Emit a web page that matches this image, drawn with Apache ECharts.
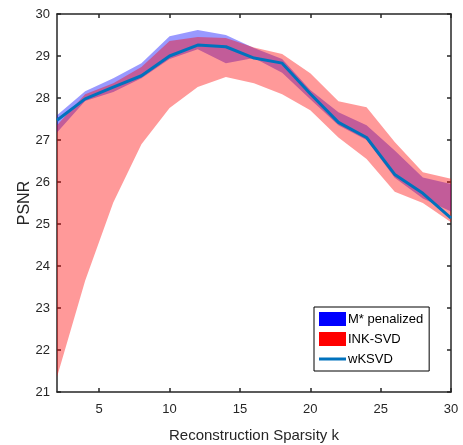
<!DOCTYPE html>
<html>
<head>
<meta charset="utf-8">
<script src="https://cdn.jsdelivr.net/npm/echarts@6/dist/echarts.min.js"></script>
<style>
  html, body { margin: 0; padding: 0; background: #fff; }
  #chart { width: 463px; height: 445px; }
</style>
</head>
<body>
<div id="chart"></div>
<script>
// sparsity k values
var kValues = [2, 4, 6, 8, 10, 12, 14, 16, 18, 20, 22, 24, 26, 28, 30];

// M* penalized band
var mLower = [27.18, 27.93, 28.14, 28.47, 28.93, 29.16, 28.83, 28.95, 28.6, 27.97, 27.35, 27.0, 26.1, 25.61, 25.3];
var mUpper = [27.59, 28.16, 28.47, 28.83, 29.47, 29.62, 29.5, 29.19, 28.93, 28.19, 27.66, 27.35, 26.75, 26.11, 25.95];

// INK-SVD band
var inkLower = [21.36, 23.65, 25.51, 26.9, 27.76, 28.26, 28.5, 28.35, 28.09, 27.71, 27.06, 26.55, 25.77, 25.5, 25.04];
var inkUpper = [27.35, 28.09, 28.35, 28.74, 29.36, 29.45, 29.43, 29.2, 29.05, 28.59, 27.92, 27.78, 26.95, 26.23, 26.08];

// wKSVD line
var wksvd = [27.47, 27.98, 28.26, 28.53, 29.0, 29.26, 29.22, 28.95, 28.83, 28.1, 27.42, 27.06, 26.18, 25.73, 25.14];

var xTicks = [5, 10, 15, 20, 25, 30];

function pairs(vals) {
  return kValues.map(function (k, i) { return [k, vals[i]]; });
}
function bandData(lo, up) {
  return kValues.map(function (k, i) { return [k, lo[i], up[i]]; });
}

// whole band drawn as one polygon, on the first data item
function bandRenderer(color) {
  return function (params, api) {
    if (params.dataIndex !== 0) return null;
    var n = params.dataInsideLength;
    var top = [], bottom = [];
    for (var i = 0; i < n; i++) {
      var k = api.value(0, i);
      top.push(api.coord([k, api.value(2, i)]));
      bottom.unshift(api.coord([k, api.value(1, i)]));
    }
    return {
      type: 'polygon',
      shape: { points: top.concat(bottom) },
      style: { fill: color, opacity: 0.4 },
      silent: true
    };
  };
}

var font = 'Liberation Sans, Arial, sans-serif';
var axisColor = '#262626';

var chart = echarts.init(document.getElementById('chart'));

var baseX = {
  type: 'value', min: 2, max: 30,
  nameMoveOverlap: false,
  axisLine: { show: true, lineStyle: { color: axisColor, width: 1.5 } },
  axisTick: { show: true, inside: true, length: 4, customValues: xTicks, lineStyle: { color: axisColor, width: 1.5 } },
  splitLine: { show: false }
};
var baseY = {
  type: 'value', min: 21, max: 30, interval: 1,
  nameMoveOverlap: false,
  axisLine: { show: true, lineStyle: { color: axisColor, width: 1.5 } },
  axisTick: { show: true, inside: true, length: 4, lineStyle: { color: axisColor, width: 1.5 } },
  splitLine: { show: false }
};

var option = {
  backgroundColor: '#ffffff',
  animation: false,
  grid: { left: 57, right: 12, top: 14, bottom: 53, containLabel: false, outerBoundsMode: 'none' },
  xAxis: [
    Object.assign({}, baseX, {
      position: 'bottom',
      name: 'Reconstruction Sparsity k',
      nameLocation: 'middle',
      nameGap: 36,
      nameTextStyle: { fontFamily: font, fontSize: 15, color: axisColor },
      axisLabel: { customValues: xTicks, fontFamily: font, fontSize: 13, color: axisColor, margin: 11 }
    }),
    Object.assign({}, baseX, { position: 'top', axisLabel: { show: false } })
  ],
  yAxis: [
    Object.assign({}, baseY, {
      position: 'left',
      name: 'PSNR',
      nameLocation: 'middle',
      nameGap: 24,
      nameTextStyle: { fontFamily: font, fontSize: 16, color: axisColor },
      axisLabel: { fontFamily: font, fontSize: 13, color: axisColor, margin: 7 }
    }),
    Object.assign({}, baseY, { position: 'right', axisLabel: { show: false } })
  ],
  legend: {
    orient: 'vertical',
    left: 314, top: 307,
    padding: [5, 6, 5, 5],
    itemGap: 6,
    itemWidth: 27, itemHeight: 14,
    borderColor: '#000', borderWidth: 1,
    backgroundColor: '#fff',
    textStyle: { fontFamily: font, fontSize: 13, color: '#000', padding: [0, 0, 0, -3] },
    data: [
      { name: 'M* penalized', icon: 'rect', itemStyle: { color: '#0000ff', opacity: 1 } },
      { name: 'INK-SVD', icon: 'rect', itemStyle: { color: '#ff0000', opacity: 1 } },
      { name: 'wKSVD', icon: 'path://M0,0L0,14M0,5.5L27,5.5L27,8.5L0,8.5Z', itemStyle: { color: '#0072bd', opacity: 1 } }
    ]
  },
  series: [
    {
      name: 'M* penalized', type: 'custom',
      data: bandData(mLower, mUpper),
      encode: { x: 0, y: [1, 2] },
      itemStyle: { color: '#0000ff' },
      renderItem: bandRenderer('#0000ff')
    },
    {
      name: 'INK-SVD', type: 'custom',
      data: bandData(inkLower, inkUpper),
      encode: { x: 0, y: [1, 2] },
      itemStyle: { color: '#ff0000' },
      renderItem: bandRenderer('#ff0000')
    },
    {
      name: 'wKSVD', type: 'line', data: pairs(wksvd),
      symbol: 'none', itemStyle: { color: '#0072bd' },
      lineStyle: { color: '#0072bd', width: 3 }
    }
  ]
};

chart.setOption(option);
</script>
</body>
</html>
